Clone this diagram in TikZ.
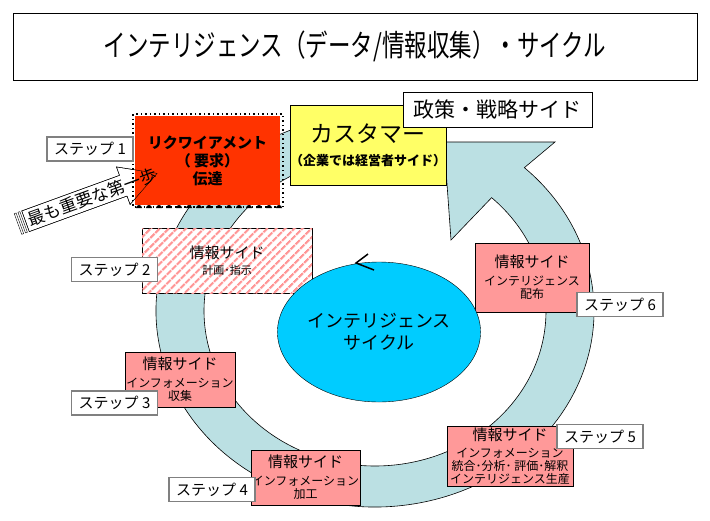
\documentclass[tikz,border=0pt]{standalone}
\usepackage{fontspec}
\usepackage{graphicx}
\usepackage{tikz}
\usetikzlibrary{shapes.geometric,patterns.meta,calc}
\newfontfamily\jp{Noto Sans CJK JP}
\definecolor{ringBlue}{RGB}{187,224,227}
\definecolor{reqRed}{RGB}{255,51,0}
\definecolor{custYellow}{RGB}{255,255,102}
\definecolor{infoPink}{RGB}{255,153,153}
\definecolor{stripePink}{RGB}{255,150,150}
\definecolor{cycleCyan}{RGB}{0,204,255}
\definecolor{labelGray}{RGB}{128,128,128}
\newcommand{\hsz}{\fontsize{15}{18}\selectfont}
\newcommand{\ssz}{\fontsize{12}{13}\selectfont}

\begin{document}
\begin{tikzpicture}[x=1pt,y=-1pt,
  every node/.style={font=\jp},
  infobox/.style={draw,fill=infoPink,inner sep=0pt,align=center,font=\jp\ssz},
  steplabel/.style={draw=labelGray,line width=1.2pt,fill=white,minimum width=86,minimum height=24,inner sep=0pt,font=\jp\fontsize{15}{18}\selectfont}
]
  \useasboundingbox (0,0) rectangle (710,520);

  % ring with arrow head
  \filldraw[fill=ringBlue,draw=black,line width=0.6pt]
    (375,311) ++(-103:219 and 196)
    arc[start angle=-103,end angle=-407,x radius=219,y radius=196]
    -- (555,142) -- (444,142) -- (451,240)
    -- ($(375,311)+(-47:171 and 155)$)
    arc[start angle=-407,end angle=-103,x radius=171,y radius=155]
    -- cycle;

  % first step arrow (under the red box)
  \begin{scope}[shift={(18,224)},rotate=20]
    \filldraw[fill=white] (8,-11) -- (112,-11) -- (112,-20) -- (148,0) -- (112,20) -- (112,11) -- (8,11) -- cycle;
    \filldraw[fill=white] (0,-11) rectangle (2,11);
    \filldraw[fill=white] (4,-11) rectangle (6,11);
  \end{scope}

  \node[fill=reqRed,minimum width=145,minimum height=89,inner sep=0pt,align=center,
        font=\jp\bfseries\fontsize{15}{18}\selectfont] (req) at (207.5,160.5)
        {リクワイアメント\\（ 要求）\\伝達};
  \draw[line width=1.5pt,dash pattern=on 1.5pt off 3pt] (133,114) rectangle (283,207);
  \foreach \i in {0,...,14}
    \fill (136+10*\i,208) arc[start angle=180,end angle=360,radius=3] -- cycle;

  \begin{scope}[shift={(18,224)},rotate=20]
    \draw (8,-11) -- (112,-11) -- (112,-20) -- (148,0) -- (112,20) -- (112,11) -- (8,11) -- cycle;
  \end{scope}
  \node[rotate=20,inner sep=0pt,font=\jp\fontsize{17}{19}\selectfont] (first) at (92,197) {最も重要な第一歩};

  \node[draw,fill=custYellow,minimum width=148,minimum height=80,inner sep=0pt,align=center,
        font=\jp\bfseries\fontsize{13}{15}\selectfont] (cust) at (368,145)
        {{\mdseries\fontsize{23}{26}\selectfont カスタマー}\\[8pt]（企業では経営者サイド）};
  \node[draw,fill=white,minimum width=189,minimum height=35,inner sep=0pt,
        font=\jp\fontsize{21}{24}\selectfont] (policy) at (497.5,109.5) {政策・戦略サイド};

  \node[draw,fill=white,postaction={pattern={Lines[angle=45,distance=6.5pt,line width=2.6pt]},pattern color=stripePink},
        minimum width=170,minimum height=65,inner sep=0pt,align=center,font=\jp\fontsize{11}{13}\selectfont] (plan) at (227,260.5)
        {{\hsz 情報サイド}\\[3pt]計画･指示};
  \node[infobox,minimum width=110,minimum height=55] (collect) at (180,379.5)
        {{\hsz 情報サイド}\\[5pt]インフォメーション\\収集};
  \node[infobox,minimum width=109,minimum height=55] (process) at (305.5,477.5)
        {{\hsz 情報サイド}\\[5pt]インフォメーション\\加工};
  \node[infobox,minimum width=126,minimum height=60] (analyze) at (510,456)
        {{\hsz 情報サイド}\\[4pt]インフォメーション\\統合･分析･ 評価･解釈\\インテリジェンス生産};
  \node[infobox,minimum width=114,minimum height=69] (deliver) at (532,277.5)
        {{\hsz 情報サイド}\\[5pt]インテリジェンス\\配布};

  \node[ellipse,draw,fill=cycleCyan,minimum width=158,minimum height=140,inner sep=0pt,align=center,
        font=\jp\fontsize{18}{22}\selectfont] (cycle) at (379,332) {インテリジェンス\\サイクル};
  \draw[line width=1.5pt] (368,254) -- (356,263) -- (374,270);

  \node[steplabel] (st1) at (90,149) {ステップ 1};
  \node[steplabel] (st2) at (114.5,269.5) {ステップ 2};
  \node[steplabel] (st3) at (114.5,403) {ステップ 3};
  \node[steplabel] (st4) at (212,489.5) {ステップ 4};
  \node[steplabel] (st5) at (600,436.5) {ステップ 5};
  \node[steplabel] (st6) at (620,304.5) {ステップ 6};

  \node[draw,minimum width=684,minimum height=67,inner sep=0pt] (title) at (355,46.5)
        {\scalebox{0.75}[1]{\fontsize{30}{36}\selectfont インテリジェンス（データ/情報収集）・サイクル}};
\end{tikzpicture}
\end{document}
